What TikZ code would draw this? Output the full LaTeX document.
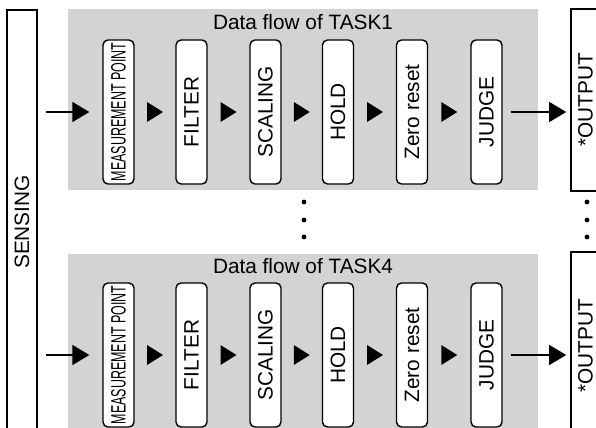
\documentclass[tikz,border=0pt]{standalone}
\usepackage{fontspec}
\usepackage{graphicx}
\setmainfont{Liberation Sans}
\usetikzlibrary{arrows.meta,calc}
\definecolor{panelgray}{RGB}{210,211,213}
\newcommand{\up}[1]{\rotatebox{90}{#1}}
\newcommand{\tri}[1]{\fill ([shift={(-4pt,5pt)}]#1) -- ([xshift=4pt]#1) -- ([shift={(-4pt,-5pt)}]#1) -- cycle;}
\begin{document}
\begin{tikzpicture}[x=0.5pt, y=-0.5pt,
  every node/.style={font=\fontsize{10.4}{12}\selectfont},
  stage/.style={draw, rounded corners=2.5pt, fill=white, line width=0.7pt, minimum width=15.5pt, minimum height=72pt, inner sep=0pt},
  endbox/.style={draw, fill=white, line width=0.8pt, inner sep=0pt},
  flow/.style={line width=0.7pt, -{Triangle[length=8.5pt,width=10pt]}},
  dot/.style={circle, fill=black, inner sep=0pt, minimum size=2.4pt}]
  \useasboundingbox (0,0) rectangle (596,428);
  \clip (0,0) rectangle (596,428);

  % panels
  \fill[panelgray] (68,9) rectangle (538,190);
  \fill[panelgray] (68,254) rectangle (538,440);
  \node (t1) at (303,22) {Data flow of TASK1};
  \node (t4) at (303,266) {Data flow of TASK4};

  \node[endbox, minimum width=15pt, minimum height=212pt] (sens) at (22,222) {\up{SENSING}};
  \node[endbox, minimum width=14.5pt, minimum height=91pt] (out1) at (585.5,100) {\up{*OUTPUT}};
  \node[endbox, minimum width=14.5pt, minimum height=94pt] (out4) at (585.5,346) {\up{*OUTPUT}};

  % TASK1
  \node[stage] (m1) at (118.5,112) {\up{\scalebox{0.6}[1]{MEASUREMENT POINT}}};
  \node[stage] (f1) at (191.5,112) {\up{FILTER}};
  \node[stage] (s1) at (265.5,112) {\up{SCALING}};
  \node[stage] (h1) at (338,112) {\up{HOLD}};
  \node[stage] (z1) at (412,112) {\up{Zero reset}};
  \node[stage] (j1) at (486.5,112) {\up{JUDGE}};
  \coordinate (a1) at ($(m1)!.5!(f1)$);
  \coordinate (b1) at ($(f1)!.5!(s1)$);
  \coordinate (c1) at ($(s1)!.5!(h1)$);
  \coordinate (d1) at ($(h1)!.5!(z1)$);
  \coordinate (e1) at ($(z1)!.5!(j1)$);
  \tri{a1} \tri{b1} \tri{c1} \tri{d1} \tri{e1}
  \draw[flow, shorten <=4pt, shorten >=6.5pt] (sens.east |- m1) -- (m1.west);
  \draw[flow, shorten <=4pt, shorten >=2pt] (j1.east) -- (out1.west |- j1);

  % TASK4
  \node[stage] (m4) at (118.5,355) {\up{\scalebox{0.6}[1]{MEASUREMENT POINT}}};
  \node[stage] (f4) at (191.5,355) {\up{FILTER}};
  \node[stage] (s4) at (265.5,355) {\up{SCALING}};
  \node[stage] (h4) at (338,355) {\up{HOLD}};
  \node[stage] (z4) at (412,355) {\up{Zero reset}};
  \node[stage] (j4) at (486.5,355) {\up{JUDGE}};
  \coordinate (a4) at ($(m4)!.5!(f4)$);
  \coordinate (b4) at ($(f4)!.5!(s4)$);
  \coordinate (c4) at ($(s4)!.5!(h4)$);
  \coordinate (d4) at ($(h4)!.5!(z4)$);
  \coordinate (e4) at ($(z4)!.5!(j4)$);
  \tri{a4} \tri{b4} \tri{c4} \tri{d4} \tri{e4}
  \draw[flow, shorten <=4pt, shorten >=6.5pt] (sens.east |- m4) -- (m4.west);
  \draw[flow, shorten <=4pt, shorten >=2pt] (j4.east) -- (out4.west |- j4);

  % dots
  \node[dot] (p1) at (304,202) {};
  \node[dot] (p2) at (304,220) {};
  \node[dot] (p3) at (304,237) {};
  \node[dot] (q1) at (587,202) {};
  \node[dot] (q2) at (587,220) {};
  \node[dot] (q3) at (587,237) {};
\end{tikzpicture}
\end{document}
